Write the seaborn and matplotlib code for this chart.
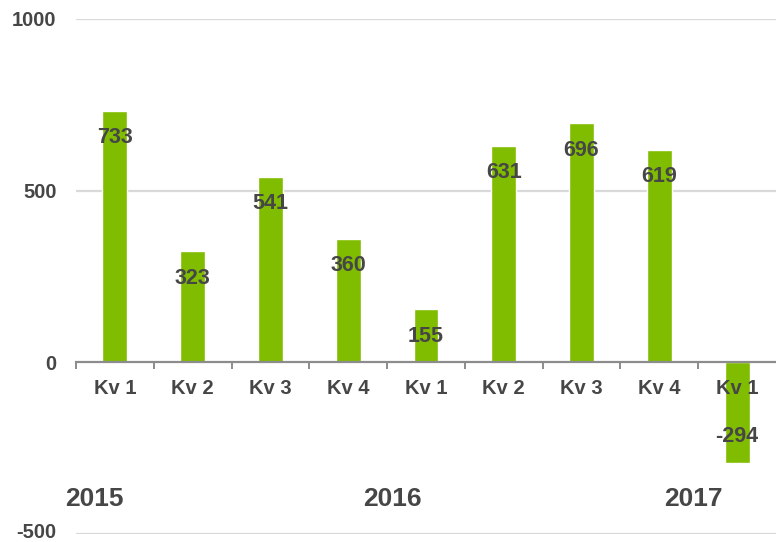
import matplotlib
matplotlib.use("Agg")
import matplotlib.pyplot as plt
import matplotlib.transforms as mtransforms
import seaborn as sns
import pandas as pd

periods = ["2015 Kv 1", "2015 Kv 2", "2015 Kv 3", "2015 Kv 4",
           "2016 Kv 1", "2016 Kv 2", "2016 Kv 3", "2016 Kv 4", "2017 Kv 1"]
quarters = ["Kv 1", "Kv 2", "Kv 3", "Kv 4", "Kv 1", "Kv 2", "Kv 3", "Kv 4", "Kv 1"]
values = [733, 323, 541, 360, 155, 631, 696, 619, -294]
years = ["2015", "2016", "2017"]
year_pos = [-0.26, 3.57, 7.44]
yticks = [-500, 0, 500, 1000]

GREEN = "#80bc00"
TEXT = "#464646"

sns.set_theme(style="white")
plt.rcParams["font.family"] = ["Liberation Sans", "DejaVu Sans"]
plt.rcParams["font.weight"] = "bold"

fig = plt.figure(figsize=(7.76, 5.42), dpi=100)
ax = fig.add_axes([76 / 776, 8 / 542, 700 / 776, 515 / 542])

df = pd.DataFrame({"period": periods, "value": values})
sns.barplot(data=df, x="period", y="value", color=GREEN, width=0.32,
            saturation=1, ax=ax, zorder=1)

ax.set_xlim(-0.5, len(periods) - 0.5)
ax.set_ylim(-500, 1000)

# gridlines (behind bars)
for y in yticks:
    if y != 0:
        ax.axhline(y, color="#d9d9d9", lw=1.6, zorder=0)

ax.set_axisbelow(False)
for s in ["left", "right", "top"]:
    ax.spines[s].set_visible(False)
ax.spines["bottom"].set_position(("data", 0))
ax.spines["bottom"].set_color("#8c8c8c")
ax.spines["bottom"].set_linewidth(1.6)
ax.spines["bottom"].set_zorder(2)

ax.set_xticks(range(len(periods)))
ax.set_xticklabels(quarters, fontsize=14.5, color=TEXT, fontweight="bold")
ax.set_xticks([i - 0.5 for i in range(len(periods))], minor=True)
ax.tick_params(axis="x", which="major", length=0, pad=12)
ax.tick_params(axis="x", which="minor", length=5, width=1.4, color="#8c8c8c",
               direction="out", bottom=True)

ax.set_yticks(yticks)
ax.set_yticklabels([str(v) for v in yticks], fontsize=14.5, color=TEXT,
                   fontweight="bold")
ax.tick_params(axis="y", length=0, pad=14)
ax.set_xlabel("")
ax.set_ylabel("")

# nudge the lowest y label up slightly so it stays inside the figure
lowest = ax.get_yticklabels()[0]
lowest.set_transform(lowest.get_transform() +
                     mtransforms.ScaledTranslation(0, 4 / 100, fig.dpi_scale_trans))

for i, v in enumerate(values):
    off = -27 if v >= 0 else 27
    ax.annotate(str(v), xy=(i, v), xytext=(0, off), textcoords="offset pixels",
                ha="center", va="center", fontsize=15.5, color=TEXT,
                fontweight="bold", zorder=3)

for yr, xp in zip(years, year_pos):
    ax.text(xp, -398, yr, ha="center", va="center", fontsize=19, color=TEXT,
            fontweight="bold")

fig.savefig("out.png", dpi=100)
